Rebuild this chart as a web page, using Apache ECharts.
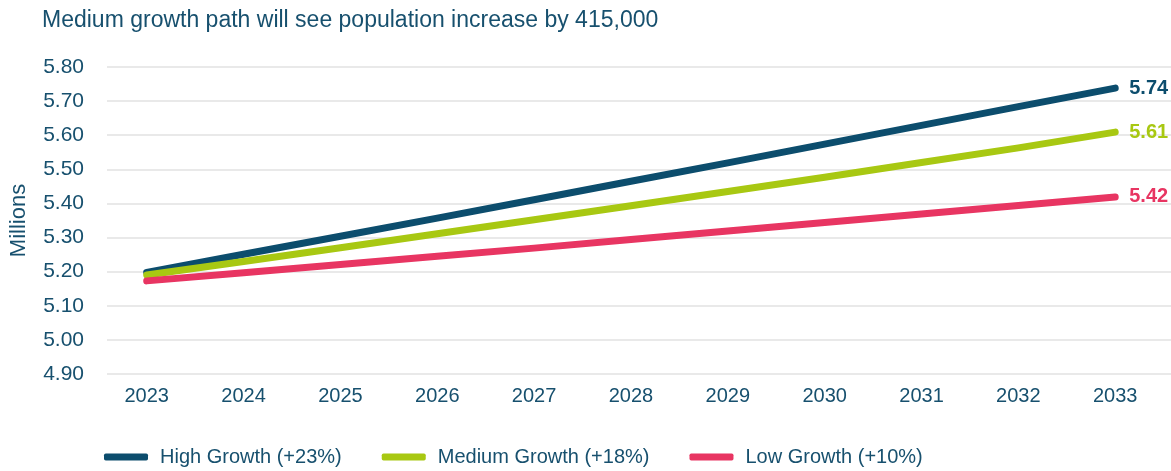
<!DOCTYPE html>
<html>
<head>
<meta charset="utf-8">
<script src="https://cdn.jsdelivr.net/npm/echarts@6/dist/echarts.min.js"></script>
<style>html,body{margin:0;padding:0;background:#fff;}#c{width:1171px;height:471px;}</style>
</head>
<body>
<div id="c"></div>
<script>
const title = 'Medium growth path will see population increase by 415,000';
const years = [2023, 2024, 2025, 2026, 2027, 2028, 2029, 2030, 2031, 2032, 2033];
const seriesNames = ['High Growth (+23%)', 'Medium Growth (+18%)', 'Low Growth (+10%)'];
const highGrowth = [5.198, 5.251, 5.304, 5.357, 5.411, 5.465, 5.519, 5.574, 5.629, 5.684, 5.738];
const mediumGrowth = [5.190, 5.230, 5.270, 5.311, 5.352, 5.393, 5.435, 5.477, 5.520, 5.563, 5.609];
const lowGrowth = [5.173, 5.197, 5.221, 5.245, 5.269, 5.294, 5.319, 5.344, 5.369, 5.394, 5.419];
const colors = ['#0c4d6d', '#a8c812', '#e83562'];
const textColor = '#17506e';
const FONT = 'Liberation Sans, Arial, Helvetica, sans-serif';

const allValues = [highGrowth, mediumGrowth, lowGrowth];
const chart = echarts.init(document.getElementById('c'), null, {renderer: 'canvas'});
chart.setOption({
  animation: false,
  textStyle: {fontFamily: FONT},
  title: {
    text: title, left: 37, top: 4,
    textStyle: {fontFamily: FONT, fontSize: 23, fontWeight: 'normal', color: textColor}
  },
  grid: {left: 103, right: 0, top: 67, bottom: 97, containLabel: false},
  legend: {
    left: 99, top: 442, itemWidth: 44, itemHeight: 7, itemGap: 40, icon: 'roundRect',
    textStyle: {fontFamily: FONT, fontSize: 20, color: textColor, padding: [0, 0, 0, 7]},
    data: seriesNames
  },
  xAxis: {
    type: 'value', min: 2022.59, max: 2033.576,
    axisLine: {show: false}, axisTick: {show: false}, splitLine: {show: false},
    axisLabel: {customValues: years, color: textColor, fontSize: 20, margin: 12, fontFamily: FONT,
      formatter: v => String(Math.round(v))}
  },
  yAxis: {
    type: 'value', min: 4.9, max: 5.8, interval: 0.1,
    name: 'Millions', nameLocation: 'middle', nameGap: 77,
    nameTextStyle: {color: textColor, fontSize: 22, fontFamily: FONT},
    axisLine: {show: false}, axisTick: {show: false},
    axisLabel: {color: textColor, fontSize: 21, margin: 23, fontFamily: FONT, formatter: v => v.toFixed(2)},
    splitLine: {lineStyle: {color: '#e2e2e2', width: 1.5}}
  },
  series: seriesNames.map((n, i) => ({
    name: n, type: 'line', symbol: 'none', color: colors[i],
    lineStyle: {width: 7, cap: 'round', join: 'round', color: colors[i]},
    data: years.map((y, j) => [y, allValues[i][j]]),
    endLabel: {
      show: true, distance: 14, color: colors[i], fontSize: 20, fontWeight: 'bold', fontFamily: FONT,
      formatter: p => p.value[1].toFixed(2)
    }
  }))
});
</script>
</body>
</html>
